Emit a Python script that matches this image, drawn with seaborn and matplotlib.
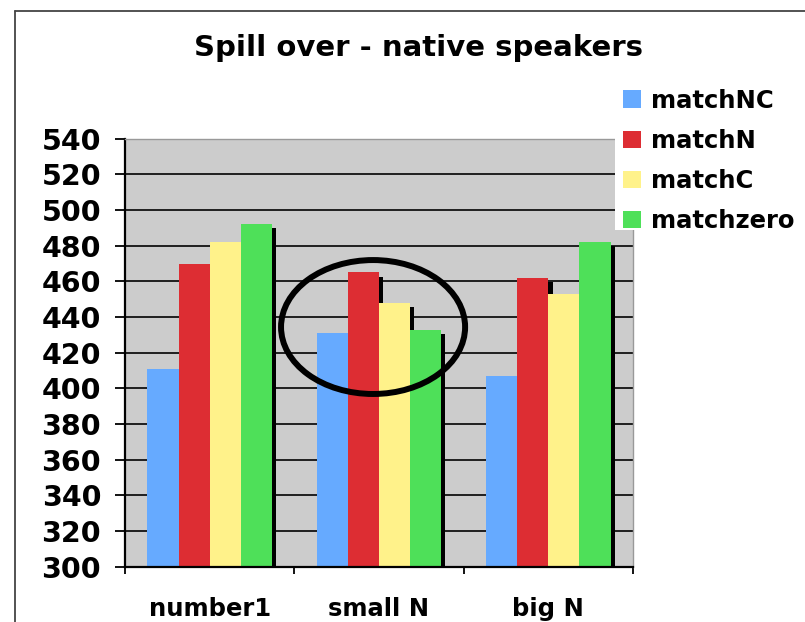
import numpy as np
import pandas as pd
import matplotlib
matplotlib.use('Agg')
import matplotlib.pyplot as plt
import matplotlib.patheffects as pe
from matplotlib.patches import Patch, Ellipse, Rectangle
from matplotlib.lines import Line2D
import seaborn as sns

# data
categories = ['number1', 'small N', 'big N']
series = ['matchNC', 'matchN', 'matchC', 'matchzero']
matchNC = [411, 431, 407]
matchN = [470, 465, 462]
matchC = [482, 448, 453]
matchzero = [492, 433, 482]
yticks = list(range(300, 541, 20))

colors = ['#66aaff', '#dd2d33', '#fff28a', '#4ee059']

rows = []
for name, vals in zip(series, [matchNC, matchN, matchC, matchzero]):
    for cat, v in zip(categories, vals):
        rows.append({'cond': cat, 'series': name, 'rt': v})
df = pd.DataFrame(rows)

sns.set_style('white')
plt.rcParams['font.family'] = ['DejaVu Sans']
plt.rcParams['font.weight'] = 'bold'
plt.rcParams['text.color'] = 'black'
plt.rcParams['xtick.color'] = 'black'
plt.rcParams['ytick.color'] = 'black'

fig = plt.figure(figsize=(8.05, 6.22), dpi=100)
ax = fig.add_axes([125/805, 1-566.7/622, 508/805, 428/622])

sns.barplot(data=df, x='cond', y='rt', hue='series', order=categories,
            hue_order=series, palette=colors, width=0.735, linewidth=0,
            saturation=1, legend=False, ax=ax)

# 3d-ish black shadow on the right side of each bar
for bar in ax.patches:
    bar.set_path_effects([pe.SimplePatchShadow(offset=(3, -3), shadow_rgbFace='black', alpha=1.0),
                          pe.Normal()])

ax.set_facecolor('#cccccc')
ax.set_ylim(300, 540)
ax.set_xlim(-0.5, 2.5)
ax.set_yticks(yticks)
ax.set_yticklabels([str(t) for t in yticks], fontsize=20.5, fontweight='bold', color='black')
ax.set_xticks(range(len(categories)))
ax.set_xticklabels(categories, fontsize=17.5, fontweight='bold', color='black')
ax.set_xticks([-0.5, 0.5, 1.5, 2.5], minor=True)
ax.tick_params(axis='x', which='major', length=0, pad=22)
ax.tick_params(axis='x', which='minor', length=5, width=1.3, color='black', direction='out', bottom=True)
ax.tick_params(axis='y', length=7.2, width=1.3, color='black', direction='out', pad=10, left=True)
ax.set_xlabel('')
ax.set_ylabel('')

ax.set_axisbelow(True)
ax.yaxis.grid(True, color='#111111', linewidth=1.3)
ax.xaxis.grid(False)
for s in ['left', 'bottom']:
    ax.spines[s].set_color('black')
    ax.spines[s].set_linewidth(1.6)
for s in ['top', 'right']:
    ax.spines[s].set_color('#999999')
    ax.spines[s].set_linewidth(1.0)
    ax.spines[s].set_visible(True)

# circle drawn round the small N group
ax.add_patch(Ellipse((0.965, 434.4), 1.087, 75.1, fill=False, edgecolor='black',
                     linewidth=4.3, zorder=6, clip_on=False))

fig.text(418/805, 1-48/622, 'Spill over - native speakers', ha='center', va='center',
         fontsize=21, fontweight='bold', color='black')

# white legend area covering the top right of the plot
fig.patches.append(Rectangle((615/805, 1-230/622), 1, 1, transform=fig.transFigure,
                             facecolor='white', edgecolor='none', zorder=1))
handles = [Patch(facecolor=c, edgecolor='none', label=s) for c, s in zip(colors, series)]
leg = fig.legend(handles=handles, loc='upper left', bbox_to_anchor=(618/805, 1-84/622),
                 frameon=False, prop={'size': 17.5, 'weight': 'bold'}, handlelength=0.75,
                 handleheight=0.75, handletextpad=0.4, labelspacing=0.66, borderpad=0.2,
                 borderaxespad=0)
for t in leg.get_texts():
    t.set_color('black')

# outer chart frame
fig.add_artist(Line2D([15/805, 1], [1-11/622, 1-11/622], transform=fig.transFigure,
                      color='#444444', linewidth=1.3))
fig.add_artist(Line2D([15/805, 15/805], [0, 1-11/622], transform=fig.transFigure,
                      color='#444444', linewidth=1.3))

fig.savefig('out.png', dpi=100)
